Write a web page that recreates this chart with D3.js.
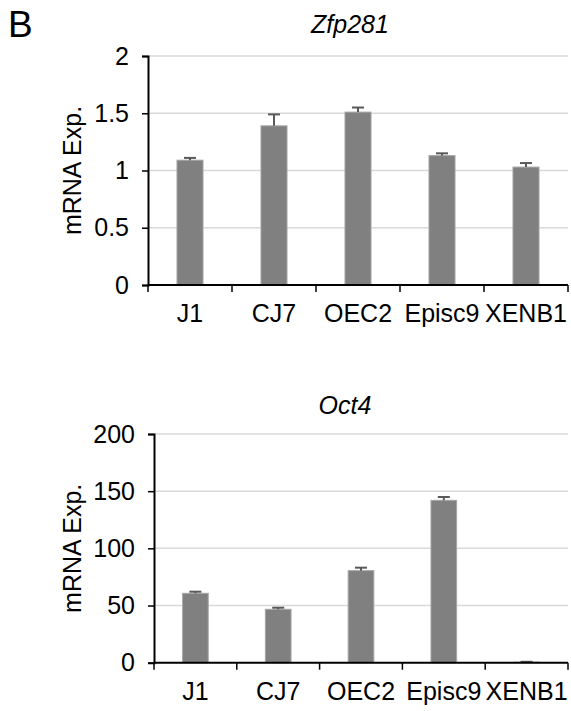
<!DOCTYPE html>
<html>
<head>
<meta charset="utf-8">
<script src="https://cdn.jsdelivr.net/npm/d3@7"></script>
<style>
  html, body { margin: 0; padding: 0; background: #fff; }
  svg { display: block; font-family: Arial, "Liberation Sans", sans-serif; }
</style>
</head>
<body>
<svg id="chart" width="571" height="711"></svg>
<script>
const categories = ["J1", "CJ7", "OEC2", "Episc9", "XENB1"];

const zfpTitle = "Zfp281";
const zfpValues = [1.09, 1.39, 1.51, 1.13, 1.03];
const zfpErrors = [0.02, 0.10, 0.04, 0.02, 0.035];
const zfpTicks = [0, 0.5, 1, 1.5, 2];
const zfpTickLabels = ["0", "0.5", "1", "1.5", "2"];

const octTitle = "Oct4";
const octValues = [60.7, 46.7, 80.5, 142, 0.5];
const octErrors = [1.4, 1.4, 2.6, 2.9, 0.3];
const octTicks = [0, 50, 100, 150, 200];
const octTickLabels = ["0", "50", "100", "150", "200"];

const yLabel = "mRNA Exp.";
const panelLetter = "B";

const svg = d3.select("#chart");

svg.append("text")
  .attr("x", 8).attr("y", 37)
  .attr("font-size", 37)
  .text(panelLetter);

function panel(cfg) {
  const x = d3.scaleBand().domain(categories).range([cfg.left, cfg.right]).paddingInner(0.69).paddingOuter(0.345);
  const y = d3.scaleLinear().domain([cfg.ticks[0], cfg.ticks[cfg.ticks.length - 1]]).range([cfg.bottom, cfg.top]);
  const g = svg.append("g");

  // gridlines
  g.selectAll(".grid").data(cfg.ticks.slice(1)).join("line")
    .attr("x1", cfg.left).attr("x2", cfg.right)
    .attr("y1", d => y(d)).attr("y2", d => y(d))
    .attr("stroke", "#d9d9d9").attr("stroke-width", 1.5);

  // bars
  g.selectAll(".bar").data(cfg.values).join("rect")
    .attr("x", (d, i) => x(categories[i]))
    .attr("width", x.bandwidth())
    .attr("y", d => y(d))
    .attr("height", d => cfg.bottom - y(d))
    .attr("fill", "#808080")
    .attr("stroke", "#a6a6a6").attr("stroke-width", 1);

  // error bars (upper only)
  const eg = g.selectAll(".err").data(cfg.values).join("g");
  eg.append("line")
    .attr("x1", (d, i) => x(categories[i]) + x.bandwidth() / 2)
    .attr("x2", (d, i) => x(categories[i]) + x.bandwidth() / 2)
    .attr("y1", d => y(d))
    .attr("y2", (d, i) => y(d + cfg.errors[i]))
    .attr("stroke", "#595959").attr("stroke-width", 2);
  eg.append("line")
    .attr("x1", (d, i) => x(categories[i]) + x.bandwidth() / 2 - 6)
    .attr("x2", (d, i) => x(categories[i]) + x.bandwidth() / 2 + 6)
    .attr("y1", (d, i) => y(d + cfg.errors[i]))
    .attr("y2", (d, i) => y(d + cfg.errors[i]))
    .attr("stroke", "#595959").attr("stroke-width", 2);

  // y axis
  const yAxis = d3.axisLeft(y).tickValues(cfg.ticks)
    .tickFormat((d, i) => cfg.tickLabels[i]).tickSizeOuter(0).tickSize(6).tickPadding(13);
  const ya = g.append("g").attr("transform", `translate(${cfg.left},0)`).call(yAxis);
  ya.select(".domain").attr("stroke", "#000").attr("stroke-width", 2);
  ya.selectAll(".tick line").attr("stroke", "#000").attr("stroke-width", 1.5);
  ya.selectAll(".tick text").attr("font-size", 25).attr("fill", "#000").attr("font-family", "Arial, 'Liberation Sans', sans-serif");

  // x axis with ticks at band boundaries
  const xAxisG = g.append("g").attr("transform", `translate(0,${cfg.bottom})`);
  xAxisG.append("line").attr("x1", cfg.left).attr("x2", cfg.right)
    .attr("stroke", "#000").attr("stroke-width", 2);
  const step = x.step();
  const bounds = d3.range(categories.length + 1).map(i => cfg.left + i * step);
  xAxisG.selectAll(".xt").data(bounds).join("line")
    .attr("x1", d => d).attr("x2", d => d).attr("y1", 0).attr("y2", 7)
    .attr("stroke", "#000").attr("stroke-width", 1.5);
  xAxisG.selectAll(".xl").data(categories).join("text")
    .attr("x", d => x(d) + x.bandwidth() / 2)
    .attr("y", 37)
    .attr("text-anchor", "middle")
    .attr("font-size", 25)
    .text(d => d);

  // title
  g.append("text").attr("x", cfg.titleX).attr("y", cfg.titleY)
    .attr("text-anchor", "middle").attr("font-size", 25).attr("font-style", "italic")
    .text(cfg.title);

  // y label
  g.append("text")
    .attr("transform", `translate(${cfg.labelX},${(cfg.top + cfg.bottom) / 2}) rotate(-90)`)
    .attr("text-anchor", "middle").attr("font-size", 25)
    .text(yLabel);
}

panel({ left: 148, right: 568, top: 56, bottom: 285, ticks: zfpTicks, tickLabels: zfpTickLabels,
  values: zfpValues, errors: zfpErrors, title: zfpTitle, titleX: 350, titleY: 33, labelX: 81 });
panel({ left: 154, right: 568, top: 434, bottom: 662.7, ticks: octTicks, tickLabels: octTickLabels,
  values: octValues, errors: octErrors, title: octTitle, titleX: 345, titleY: 414, labelX: 81 });
</script>
</body>
</html>
